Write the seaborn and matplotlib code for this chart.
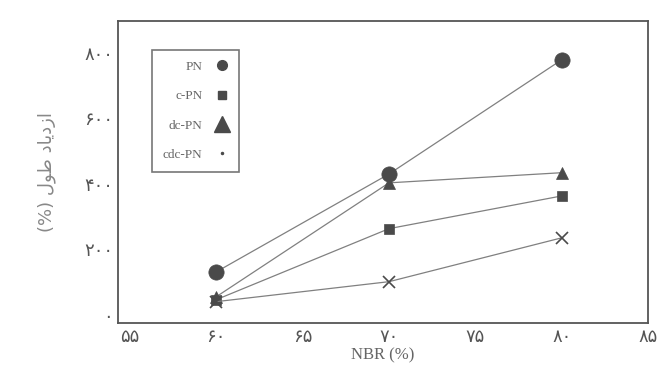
import matplotlib
matplotlib.use("Agg")
import matplotlib.pyplot as plt
import seaborn as sns
import pandas as pd
from matplotlib.lines import Line2D

# data
nbr = [60, 70, 80]
pn = [131, 430, 779]
c_pn = [46, 263, 363]
dc_pn = [55, 403, 434]
cdc_pn = [40, 101, 235]

series_names = ["PN", "c-PN", "dc-PN", "cdc-PN"]
x_ticks = [55, 60, 65, 70, 75, 80, 85]
x_tick_labels = ["۵۵", "۶۰", "۶۵", "۷۰", "۷۵", "۸۰", "۸۵"]
y_ticks = [0, 200, 400, 600, 800]
y_tick_labels = ["۰", "۲۰۰", "۴۰۰", "۶۰۰", "۸۰۰"]
# "ازدیاد طول (%)" written in shaped presentation forms, visual order
y_label = "(%) \ufedd\ufeee\ufec3 \ufea9\ufe8e\ufbfe\ufea9\ufeaf\ufe8d"
x_label = "NBR (%)"

sns.set_style("white")
plt.rcParams["font.family"] = ["DejaVu Sans", "Noto Sans"]

df = pd.DataFrame({
    "NBR": nbr * 4,
    "value": pn + c_pn + dc_pn + cdc_pn,
    "series": [s for s in series_names for _ in nbr],
})

markers = {"PN": "o", "c-PN": "s", "dc-PN": "^", "cdc-PN": "x"}
sizes = {"PN": 11, "c-PN": 7, "dc-PN": 8, "cdc-PN": 8}

fig = plt.figure(figsize=(6.62, 3.79), dpi=100)
ax = fig.add_axes([0.178, 0.148, 0.801, 0.797])

line_col = "#808080"
mark_col = "#4a4a4a"
for name in series_names:
    sub = df[df["series"] == name]
    sns.lineplot(data=sub, x="NBR", y="value", ax=ax, color=line_col,
                 linewidth=0.9, marker=markers[name], markersize=sizes[name],
                 markerfacecolor=mark_col, markeredgecolor=mark_col,
                 markeredgewidth=1.2 if name == "cdc-PN" else 0.5,
                 legend=False)

ax.set_xlim(54.3, 84.6)
ax.set_ylim(-25, 898)
ax.set_xticks(x_ticks)
ax.set_xticklabels(x_tick_labels)
ax.set_yticks(y_ticks)
ax.set_yticklabels(y_tick_labels)
ax.tick_params(direction="in", length=5, width=0.8, colors="#555555",
               labelsize=13, labelcolor="#555555")

for sp in ax.spines.values():
    sp.set_color("#555555")
    sp.set_linewidth(1.3)

ax.set_xlabel(x_label, family="Liberation Serif", fontsize=12, color="#666666",
              labelpad=1)
ax.set_ylabel(y_label, fontsize=13, color="#888888", labelpad=20)

handles = [
    Line2D([], [], linestyle="none", marker="o", markersize=7,
           color=mark_col),
    Line2D([], [], linestyle="none", marker="s", markersize=6,
           color=mark_col),
    Line2D([], [], linestyle="none", marker="^", markersize=11,
           color=mark_col),
    Line2D([], [], linestyle="none", marker=".", markersize=3,
           color=mark_col),
]
leg = ax.legend(handles, series_names, loc="upper left",
                bbox_to_anchor=(0.052, 0.925), markerfirst=False,
                frameon=True, fancybox=False, handlelength=1.0,
                handletextpad=1.0, labelspacing=1.3, borderpad=0.8,
                prop={"family": "Liberation Serif", "size": 9.5})
leg.get_frame().set_edgecolor("#555555")
leg.get_frame().set_linewidth(1.2)
for t in leg.get_texts():
    t.set_color("#666666")
    t.set_ha("right")

fig.savefig("out.png", dpi=100)
